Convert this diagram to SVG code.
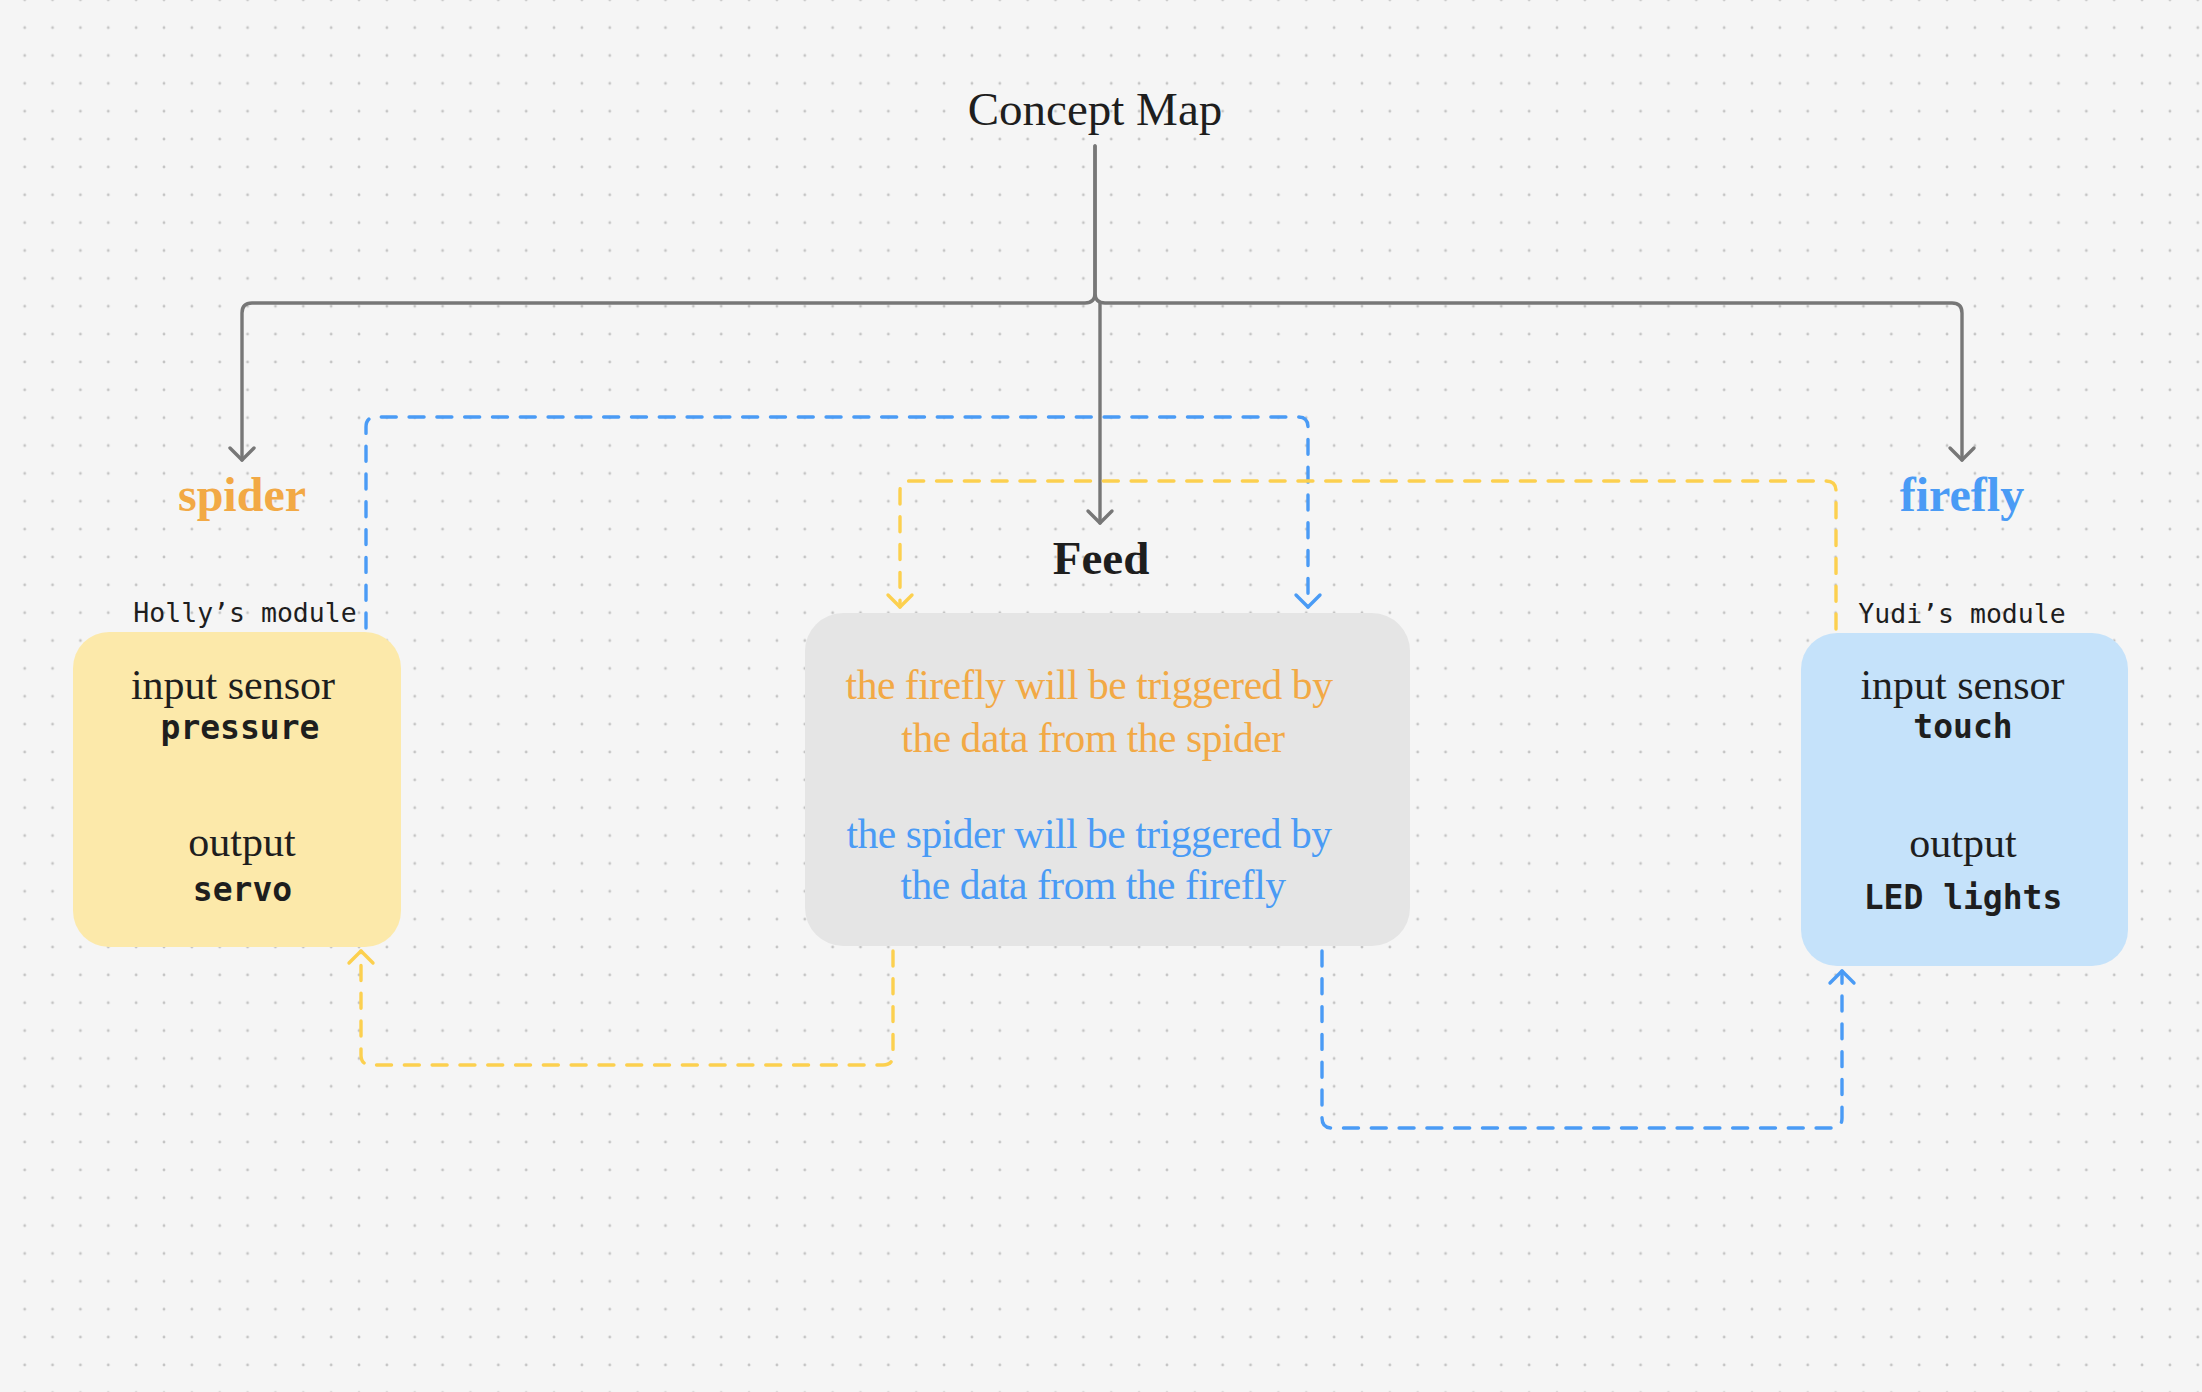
<svg xmlns="http://www.w3.org/2000/svg" width="2202" height="1392" viewBox="0 0 2202 1392">
  <style>
    .serif { font-family: "Liberation Serif", "Times New Roman", serif; }
    .mono { font-family: "DejaVu Sans Mono", "Liberation Mono", monospace; }
    .ink { fill: #1e1e1e; }
    .title { font-size: 47px; }
    .label { font-size: 48px; font-weight: bold; }
    .body { font-size: 42px; }
    .feedtxt { font-size: 41.5px; letter-spacing: -0.45px; }
    .code { font-size: 33px; font-weight: bold; }
    .module { font-size: 26.5px; }
    .orange { fill: #F2A945; }
    .blue { fill: #4A9BF5; }
    .conn { fill: none; stroke-width: 3.4; stroke-linecap: round; stroke-linejoin: round; }
    .gray { stroke: #777777; }
    .dash-blue { stroke: #4A9BF5; stroke-dasharray: 15 12.8; }
    .dash-yellow { stroke: #FCD04F; stroke-dasharray: 15 12.8; }
  </style>
  <defs>
    <pattern id="dots" x="10.77" y="-14.13" width="27.86" height="27.86" patternUnits="userSpaceOnUse">
      <circle cx="13.93" cy="13.93" r="1.4" fill="#c4c4c4"/>
    </pattern>
    <marker id="arrGray" viewBox="-15 -15 30 30" markerWidth="30" markerHeight="30" refX="0" refY="0" orient="auto" markerUnits="userSpaceOnUse">
      <path d="M-12,-12 L0,0 L-12,12" fill="none" stroke="#777777" stroke-width="3.4" stroke-linecap="round" stroke-linejoin="round"/>
    </marker>
    <marker id="arrBlue" viewBox="-15 -15 30 30" markerWidth="30" markerHeight="30" refX="0" refY="0" orient="auto" markerUnits="userSpaceOnUse">
      <path d="M-12,-12 L0,0 L-12,12" fill="none" stroke="#4A9BF5" stroke-width="3.4" stroke-linecap="round" stroke-linejoin="round"/>
    </marker>
    <marker id="arrYellow" viewBox="-15 -15 30 30" markerWidth="30" markerHeight="30" refX="0" refY="0" orient="auto" markerUnits="userSpaceOnUse">
      <path d="M-12,-12 L0,0 L-12,12" fill="none" stroke="#FCD04F" stroke-width="3.4" stroke-linecap="round" stroke-linejoin="round"/>
    </marker>
  </defs>

  <rect width="2202" height="1392" fill="#f5f5f5"/>
  <rect width="2202" height="1392" fill="url(#dots)"/>

  <g id="connectors">
    <path class="conn gray" d="M1095,146 V293 Q1095,303 1085,303 H252 Q242,303 242,313 V460" marker-end="url(#arrGray)"/>
    <path class="conn gray" d="M1095,146 V293 Q1095,303 1105,303 H1952 Q1962,303 1962,313 V460" marker-end="url(#arrGray)"/>
    <path class="conn gray" d="M1100,303 V523" marker-end="url(#arrGray)"/>
    <path class="conn dash-blue" d="M366,628 V427 Q366,417 376,417 H1298 Q1308,417 1308,427 V607" marker-end="url(#arrBlue)"/>
    <path class="conn dash-yellow" d="M1836,629 V491 Q1836,481 1826,481 H910 Q900,481 900,491 V607" marker-end="url(#arrYellow)"/>
    <path class="conn dash-yellow" d="M893,951 V1055 Q893,1065 883,1065 H371 Q361,1065 361,1055 V951" marker-end="url(#arrYellow)"/>
    <path class="conn dash-blue" d="M1322,951 V1118 Q1322,1128 1332,1128 H1832 Q1842,1128 1842,1118 V971" marker-end="url(#arrBlue)"/>
  </g>

  <g id="concept-map">
    <text class="serif title ink" x="1095" y="125" text-anchor="middle">Concept Map</text>
  </g>

  <g id="spider">
    <text class="serif label orange" x="242" y="511" text-anchor="middle">spider</text>
    <text class="mono module ink" x="245" y="621.5" text-anchor="middle">Holly’s module</text>
    <rect x="73" y="632" width="328" height="315" rx="36" ry="36" fill="#FCE9AA"/>
    <text class="serif body ink" x="233" y="699" text-anchor="middle">input sensor</text>
    <text class="mono code ink" x="240" y="738.5" text-anchor="middle">pressure</text>
    <text class="serif body ink" x="242" y="856" text-anchor="middle">output</text>
    <text class="mono code ink" x="242.5" y="900.5" text-anchor="middle">servo</text>
  </g>

  <g id="feed">
    <text class="serif label ink" x="1101" y="574" text-anchor="middle" style="font-size:47px">Feed</text>
    <rect x="805" y="613" width="605" height="333" rx="38" ry="38" fill="#E5E5E5"/>
    <text class="serif feedtxt orange" x="1089" y="698.5" text-anchor="middle">the firefly will be triggered by</text>
    <text class="serif feedtxt orange" x="1093" y="752" text-anchor="middle">the data from the spider</text>
    <text class="serif feedtxt blue" x="1089" y="848" text-anchor="middle">the spider will be triggered by</text>
    <text class="serif feedtxt blue" x="1093" y="898.5" text-anchor="middle">the data from the firefly</text>
  </g>

  <g id="firefly">
    <text class="serif label blue" x="1962" y="511" text-anchor="middle">firefly</text>
    <text class="mono module ink" x="1962" y="622.5" text-anchor="middle">Yudi’s module</text>
    <rect x="1801" y="633" width="327" height="333" rx="36" ry="36" fill="#C5E2FA"/>
    <text class="serif body ink" x="1962.5" y="699" text-anchor="middle">input sensor</text>
    <text class="mono code ink" x="1963" y="738" text-anchor="middle">touch</text>
    <text class="serif body ink" x="1963" y="857" text-anchor="middle">output</text>
    <text class="mono code ink" x="1963" y="908.5" text-anchor="middle">LED lights</text>
  </g>
</svg>
